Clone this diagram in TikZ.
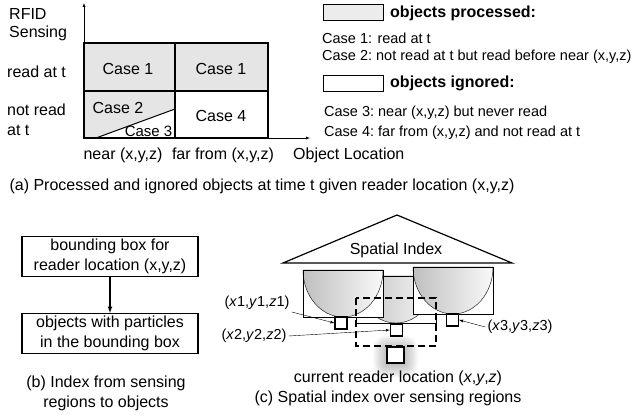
\documentclass[tikz,border=0pt]{standalone}
\usepackage{fontspec}
\setmainfont{Liberation Sans}
\usetikzlibrary{arrows}
\tikzset{
  lbl/.style={font=\fontsize{16}{20}\selectfont, inner sep=1pt},
  note/.style={font=\fontsize{14.5}{17}\selectfont, inner sep=0pt, anchor=west},
  head/.style={font=\fontsize{16}{19}\selectfont\bfseries, inner sep=0pt, anchor=west},
  legbox/.style={draw, minimum width=60pt, minimum height=16pt, inner sep=0pt},
  flowbox/.style={draw, line width=1.2pt, minimum width=176pt, minimum height=40pt, align=center, lbl},
  loc/.style={draw, line width=1.2pt, fill=white, minimum size=12pt, inner sep=0pt},
}
\begin{document}
\begin{tikzpicture}[x=1pt,y=-1pt]
  \useasboundingbox (0,0) rectangle (632,417);
  % (a) the four cases
  \fill[gray!20] (84,43) rectangle (268,91);
  \fill[gray!20] (84,91) rectangle (175,138);
  \fill[white] (96,138) -- (175,109) -- (175,138) -- cycle;
  \draw[line width=1.2pt] (84,43) rectangle (268,138);
  \draw[line width=1.2pt] (175,43) -- (175,138) (84,91) -- (268,91);
  \draw[line width=1pt] (96,138) -- (175,109);
  \coordinate (o) at (84,138);
  \coordinate (ytop) at (84,3);
  \coordinate (xend) at (310,138);
  \draw[-latex] (o) -- (ytop);
  \draw[-latex] (o) -- (xend);
  \node[lbl] (c1a) at (128,69) {Case 1};
  \node[lbl] (c1b) at (221,69) {Case 1};
  \node[lbl] (c2) at (118,108) {Case 2};
  \node[lbl, font=\fontsize{15}{18}\selectfont, anchor=base east] (c3) at (173.5,137) {Case 3};
  \node[lbl] (c4) at (221,116) {Case 4};
  \node[lbl, font=\fontsize{16}{18}\selectfont, align=left, anchor=west] (rfid) at (8,25) {RFID\\Sensing};
  \node[lbl, anchor=west] (readt) at (6,72) {read at t};
  \node[lbl, align=left, anchor=west] (notread) at (6,120) {not read\\at t};
  \node[lbl] (near) at (123,155) {near (x,y,z)};
  \node[lbl] (far) at (223,155) {far from (x,y,z)};
  \node[lbl, anchor=west] (objloc) at (292,155) {Object Location};
  \node[lbl] (capa) at (262,186) {(a) Processed and ignored objects at time t given reader location (x,y,z)};
  % legend
  \node[legbox, fill=gray!15] (procbox) at (353,12) {};
  \node[head] (proc) at (390,13) {objects processed:};
  \node[note] (case1) at (322,38) {Case 1: read at t};
  \node[note] (case2) at (322,57) {Case 2:\ not read at t but read before near (x,y,z)};
  \node[legbox, fill=white] (ignbox) at (353,83.5) {};
  \node[head] (ign) at (390,83) {objects ignored:};
  \node[note] (case3) at (324,113) {Case 3:\ near (x,y,z) but never read};
  \node[note] (case4) at (324,133) {Case 4:\ far from (x,y,z) and not read at t};
  % (b) index
  \node[flowbox] (bbox) at (110,256.5) {bounding box for\\reader location (x,y,z)};
  \node[flowbox] (objs) at (110,333.5) {objects with particles\\in the bounding box};
  \draw[-latex, line width=1.2pt] (bbox) -- (objs);
  \node[lbl, align=center] (capb) at (106,393) {(b) Index from sensing\\regions to objects};
  % (c) spatial index
  \draw[line width=1.2pt] (397,215) -- (512,263) -- (283,263) -- cycle;
  \node[lbl] (spidx) at (396,250) {Spatial Index};
  \foreach \x/\y in {356/276, 303/270, 413/267} {
    \fill[white] (\x,\y) rectangle ++(80,47);
    \shadedraw[left color=gray!50, right color=gray!5] (\x,\y) -- ++(80,0) arc (0:180:40 and 47) -- cycle;
    \draw (\x,\y) rectangle ++(80,47);
  }
  \coordinate (curpos) at (395.5,355);
  \foreach \s in {1,...,14}
    \fill[black, opacity=0.018, rounded corners=\s pt] ([shift={(-8.5-\s,-6-\s)}]curpos) rectangle ([shift={(8.5+\s,9+\s)}]curpos);
  \draw[line width=1.2pt, dash pattern=on 7pt off 4pt] (356,298) rectangle (436,346);
  \node[loc] (p1) at (341,323) {};
  \node[loc] (p2) at (396.5,330) {};
  \node[loc] (p3) at (452.5,320) {};
  \node[loc, minimum width=17pt, minimum height=16pt] (cur) at (curpos) {};
  \node[note, anchor=center, inner sep=2pt] (l1) at (257,303) {(\textit{x}1,\textit{y}1,\textit{z}1)};
  \node[note, anchor=center, inner sep=2pt] (l2) at (254,336) {(\textit{x}2,\textit{y}2,\textit{z}2)};
  \node[note, anchor=center, inner sep=2pt] (l3) at (520,327) {(\textit{x}3,\textit{y}3,\textit{z}3)};
  \draw[-latex] (l1.south east) -- (p1.west);
  \draw[-latex] (l2.east) -- (p2.west);
  \draw[-latex] (l3.west) -- (p3.east);
  \node[lbl] (curlbl) at (398,378) {current reader location (\textit{x},\textit{y},\textit{z})};
  \node[lbl] (capc) at (388,398) {(c) Spatial index over sensing regions};
\end{tikzpicture}
\end{document}
